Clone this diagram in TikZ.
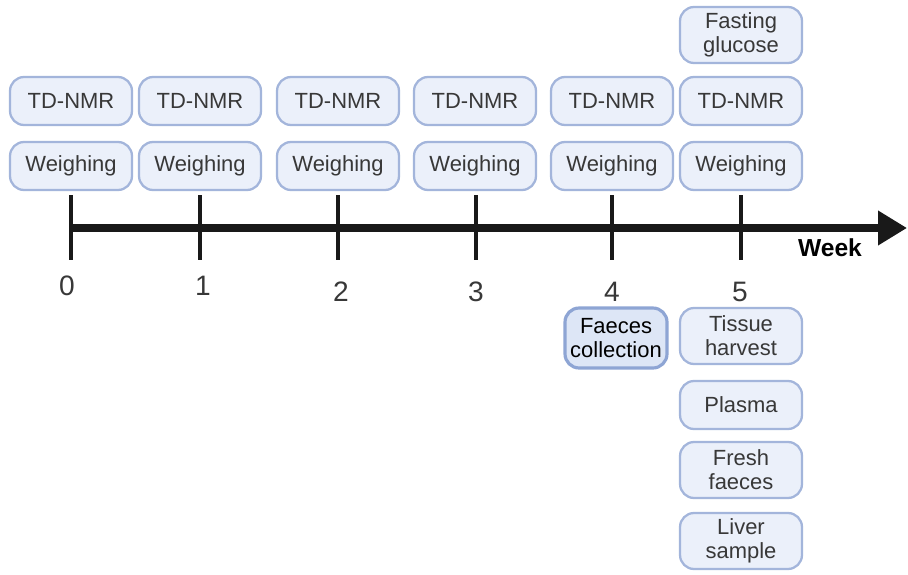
\documentclass[tikz,border=0pt]{standalone}
\usepackage{fontspec}
\setmainfont{Liberation Sans}
\usetikzlibrary{arrows.meta}
\definecolor{boxfill}{HTML}{EBF0FA}
\definecolor{boxline}{HTML}{A3B5DB}
\definecolor{boxtext}{HTML}{383838}
\definecolor{faecfill}{HTML}{DDE6F6}
\definecolor{faecline}{HTML}{8EA5D4}
\begin{document}
\begin{tikzpicture}[x=0.02cm,y=-0.02cm]
   \tikzstyle{task} = [rectangle, rounded corners=8pt, draw=boxline, fill=boxfill, line width=1.3pt, text=boxtext, minimum width=2.44cm, minimum height=0.96cm, inner sep=1pt, align=center, font=\fontsize{12.5}{13.6}\selectfont]
   \tikzstyle{tall} = [minimum height=1.12cm]
   \tikzstyle{weeknum} = [text=boxtext, font=\fontsize{16}{18}\selectfont]

   \useasboundingbox (0,0) rectangle (908,574);

      % timeline
      \draw[line width=4pt, black!90, -{Triangle[length=0.58cm, width=0.66cm]}] (71,228) coordinate (start) -- (907,228) coordinate (end);
      \foreach \x/\n in {71/0, 200/1, 338/2, 476/3, 612/4, 741/5}
        \draw[line width=2.2pt, black!90] (\x,195) -- (\x,260);

      \draw
        (67,286) node[weeknum] (w0){0}
        (203,286) node[weeknum] (w1){1}
        (341,292) node[weeknum] (w2){2}
        (476,292) node[weeknum] (w3){3}
        (612,292) node[weeknum] (w4){4}
        (740,292) node[weeknum] (w5){5}
        (830,248) node[font=\fontsize{14}{16}\selectfont\bfseries] (week){Week};

      % measurements above the axis
      \draw
        (71,101) node[task] (nmr0){TD-NMR}
        (200,101) node[task] (nmr1){TD-NMR}
        (338,101) node[task] (nmr2){TD-NMR}
        (475,101) node[task] (nmr3){TD-NMR}
        (612,101) node[task] (nmr4){TD-NMR}
        (741,101) node[task] (nmr5){TD-NMR}
        (71,166) node[task] (weigh0){Weighing}
        (200,166) node[task] (weigh1){Weighing}
        (338,166) node[task] (weigh2){Weighing}
        (475,166) node[task] (weigh3){Weighing}
        (612,166) node[task] (weigh4){Weighing}
        (741,166) node[task] (weigh5){Weighing}
        (741,35) node[task, tall] (glucose){Fasting\\glucose};

      % samples below the axis
      \draw
        (616,338) node[task, tall, minimum width=2.04cm, minimum height=1.2cm, fill=faecfill, draw=faecline, line width=1.8pt, text=black] (faeces){Faeces\\collection}
        (741,336) node[task, tall] (tissue){Tissue\\harvest}
        (741,405) node[task] (plasma){Plasma}
        (741,470) node[task, tall] (fresh){Fresh\\faeces}
        (741,541) node[task, tall] (liver){Liver\\sample};
\end{tikzpicture}
\end{document}
